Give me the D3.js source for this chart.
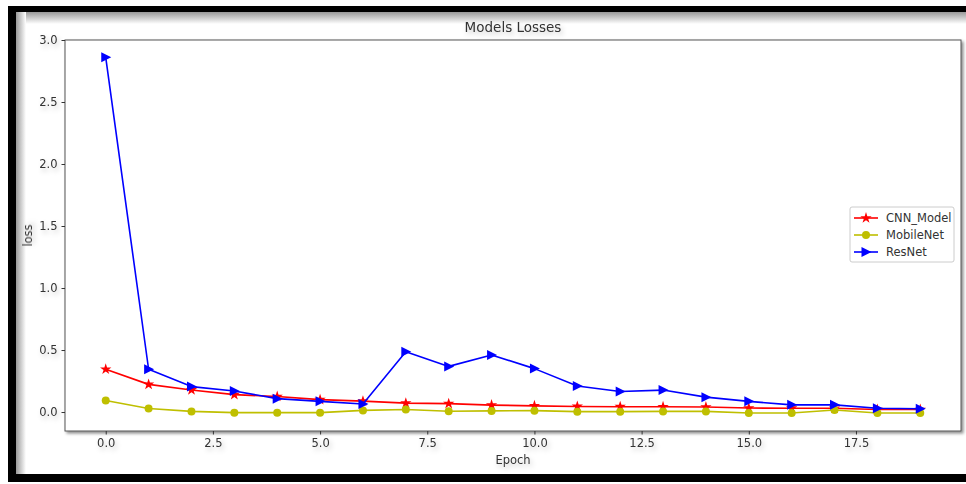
<!DOCTYPE html>
<html><head><meta charset="utf-8">
<script src="https://cdn.jsdelivr.net/npm/d3@7"></script>
<style>html,body{margin:0;padding:0;background:#fff;}svg{display:block;font-family:"DejaVu Sans",sans-serif;}</style>
</head><body>
<svg id="c" width="966" height="484"></svg>
<script>
const epochs = d3.range(0, 20);
const cnnLoss = [0.345,0.223,0.178,0.140,0.125,0.100,0.088,0.072,0.068,0.056,0.050,0.045,0.043,0.042,0.040,0.032,0.031,0.030,0.020,0.020];
const mobileLoss = [0.093,0.028,0.005,-0.005,-0.005,-0.005,0.013,0.020,0.006,0.009,0.011,0.003,0.003,0.005,0.005,-0.008,-0.008,0.016,-0.008,-0.008];
const resLoss = [2.86,0.345,0.205,0.170,0.108,0.086,0.065,0.486,0.368,0.460,0.350,0.210,0.165,0.177,0.120,0.086,0.058,0.058,0.030,0.027];
const xTicks = [0,2.5,5,7.5,10,12.5,15,17.5];
const yTicks = [0,0.5,1,1.5,2,2.5,3];
const series = [
  {name:"CNN_Model", values:cnnLoss, color:"#ff0000", marker:"star"},
  {name:"MobileNet", values:mobileLoss, color:"#bfbf00", marker:"circle"},
  {name:"ResNet", values:resLoss, color:"#0000ff", marker:"tri"}
];

const svg = d3.select("#c");
const defs = svg.append("defs");
const tf = defs.append("filter").attr("id","tshadow").attr("x","-20%").attr("y","-40%").attr("width","160%").attr("height","200%");
tf.append("feDropShadow").attr("dx",2).attr("dy",3).attr("stdDeviation",2.5).attr("flood-color","#000").attr("flood-opacity",0.22);
const bf = defs.append("filter").attr("id","bshadow").attr("x","-5%").attr("y","-5%").attr("width","110%").attr("height","110%");
bf.append("feDropShadow").attr("dx",2).attr("dy",2).attr("stdDeviation",1.5).attr("flood-color","#000").attr("flood-opacity",0.45);
const lg = defs.append("linearGradient").attr("id","gtop").attr("x1",0).attr("y1",0).attr("x2",0).attr("y2",1);
lg.append("stop").attr("offset",0).attr("stop-color","#999");
lg.append("stop").attr("offset",1).attr("stop-color","#fff");
const lg2 = defs.append("linearGradient").attr("id","gleft").attr("x1",0).attr("y1",0).attr("x2",1).attr("y2",0);
lg2.append("stop").attr("offset",0).attr("stop-color","#999");
lg2.append("stop").attr("offset",1).attr("stop-color","#fff");

// frame
svg.append("rect").attr("x",16).attr("y",12).attr("width",950).attr("height",12).attr("fill","url(#gtop)");
svg.append("rect").attr("x",16).attr("y",12).attr("width",10).attr("height",462).attr("fill","url(#gleft)");
svg.append("rect").attr("x",8).attr("y",6).attr("width",958).attr("height",6).attr("fill","#000");
svg.append("rect").attr("x",8).attr("y",6).attr("width",8).attr("height",476).attr("fill","#000");
svg.append("rect").attr("x",8).attr("y",474).attr("width",958).attr("height",8).attr("fill","#000");

const L=65, T=40, R=961, B=431;
const x = d3.scaleLinear().domain([-0.95, 19.95]).range([L, R]);
const y = d3.scaleLinear().domain([-0.153, 3.0]).range([B, T]);

svg.append("rect").attr("x",L).attr("y",T).attr("width",R-L).attr("height",B-T)
  .attr("fill","#fff").attr("stroke","#555").attr("stroke-width",1).attr("filter","url(#bshadow)");

const xa = svg.append("g").attr("transform",`translate(0,${B})`)
  .call(d3.axisBottom(x).tickValues(xTicks).tickFormat(d3.format(".1f")).tickSizeOuter(0).tickSize(3.5).tickPadding(4));
const ya = svg.append("g").attr("transform",`translate(${L},0)`)
  .call(d3.axisLeft(y).tickValues(yTicks).tickFormat(d3.format(".1f")).tickSizeOuter(0).tickSize(3.5).tickPadding(4));
[xa,ya].forEach(a=>{
  a.select(".domain").remove();
  a.selectAll("line").attr("stroke","#333");
  a.selectAll("text").attr("font-size",11.5).attr("fill","#333").attr("filter","url(#tshadow)")
   .style("font-family","DejaVu Sans");
});

const plot = svg.append("g");
const line = d3.line().x((d,i)=>x(epochs[i])).y(d=>y(d));
const starPath = d3.symbol().type(d3.symbolStar).size(40)();
const triPath = "M-4.5,-5L5.5,0L-4.5,5Z";

function drawMarker(g, type, color){
  if(type==="circle") g.append("circle").attr("r",4).attr("fill",color);
  else if(type==="star") g.append("path").attr("d",starPath).attr("fill",color);
  else g.append("path").attr("d",triPath).attr("fill",color);
}

series.forEach(s=>{
  plot.append("path").datum(s.values).attr("d",line).attr("fill","none")
    .attr("stroke",s.color).attr("stroke-width",1.6).attr("stroke-linejoin","round");
  s.values.forEach((v,i)=>{
    const g = plot.append("g").attr("transform",`translate(${x(epochs[i])},${y(v)})`);
    drawMarker(g, s.marker, s.color);
  });
});

// title & labels
svg.append("text").attr("x",(L+R)/2).attr("y",32).attr("text-anchor","middle")
  .attr("font-size",13.5).attr("fill","#333").attr("filter","url(#tshadow)").text("Models Losses");
svg.append("text").attr("x",(L+R)/2).attr("y",464).attr("text-anchor","middle")
  .attr("font-size",11.5).attr("fill","#333").attr("filter","url(#tshadow)").text("Epoch");
svg.append("text").attr("transform",`translate(32,${(T+B)/2}) rotate(-90)`).attr("text-anchor","middle")
  .attr("font-size",11.5).attr("fill","#333").attr("filter","url(#tshadow)").text("loss");

// legend
const lgd = svg.append("g").attr("transform","translate(850,207)");
lgd.append("rect").attr("width",104).attr("height",55).attr("rx",2).attr("fill","#fff").attr("stroke","#ccc");
series.forEach((s,i)=>{
  const yy = 11 + i*17;
  lgd.append("line").attr("x1",4).attr("x2",28).attr("y1",yy).attr("y2",yy).attr("stroke",s.color).attr("stroke-width",1.6);
  const g = lgd.append("g").attr("transform",`translate(16,${yy})`);
  drawMarker(g, s.marker, s.color);
  lgd.append("text").attr("x",36).attr("y",yy+4).attr("font-size",11.5).attr("fill","#333").text(s.name);
});
</script>
</body></html>
